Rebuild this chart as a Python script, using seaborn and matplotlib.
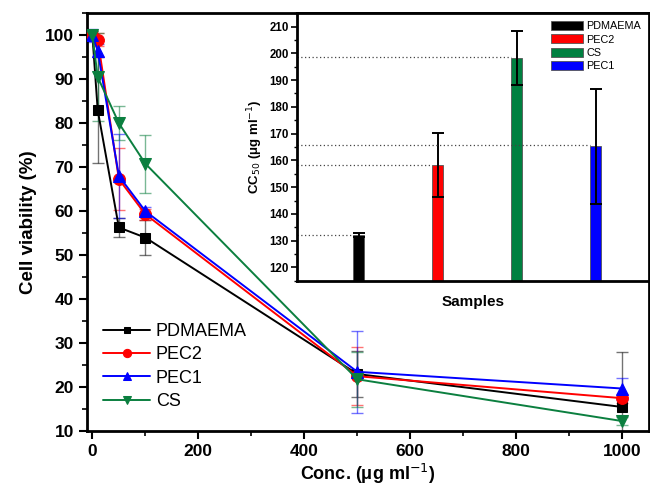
import numpy as np
import pandas as pd
import matplotlib
matplotlib.use("Agg")
import matplotlib.pyplot as plt
from matplotlib.ticker import MultipleLocator
from matplotlib.patches import Patch
import seaborn as sns

# cell viability vs concentration
conc = [0, 10, 50, 100, 500, 1000]
pdmaema = [100, 83.0, 56.3, 54.0, 23.0, 15.5]
pdmaema_err = [1.0, 12.0, 2.2, 4.0, 5.2, 12.5]
pec2 = [100, 99.0, 67.3, 59.3, 22.5, 17.5]
pec2_err = [1.0, 1.5, 7.0, 1.2, 6.6, 1.0]
pec1 = [100, 96.5, 68.0, 60.0, 23.5, 19.7]
pec1_err = [1.5, 1.5, 9.5, 1.0, 9.3, 2.5]
cs = [100, 90.5, 80.0, 70.8, 21.8, 12.3]
cs_err = [1.0, 10.0, 3.9, 6.6, 6.3, 1.0]

# CC50 inset
samples = ["PDMAEMA", "PEC2", "CS", "PEC1"]
cc50 = [132.0, 158.3, 198.4, 165.2]
cc50_err = [0.7, 11.9, 10.1, 21.6]
cc50_ref = [132.2, 158.3, 198.6, 165.7]

green = "#0b7f3f"
series = [
    ("PDMAEMA", pdmaema, pdmaema_err, "black", "s", 7),
    ("PEC2", pec2, pec2_err, "red", "o", 8.5),
    ("PEC1", pec1, pec1_err, "blue", "^", 8.5),
    ("CS", cs, cs_err, green, "v", 8.5),
]
bar_colors = ["black", "red", "#008040", "blue"]

sns.set_style("ticks")
plt.rcParams["font.family"] = ["Liberation Sans", "DejaVu Sans"]
plt.rcParams["text.color"] = "black"
plt.rcParams["axes.labelcolor"] = "black"
plt.rcParams["xtick.color"] = "black"
plt.rcParams["ytick.color"] = "black"
plt.rcParams["axes.edgecolor"] = "black"

fig = plt.figure(figsize=(6.5, 4.9), dpi=100)
ax = fig.add_axes([0.134, 0.12, 0.864, 0.853])

for name, vals, err, col, mk, ms in series:
    ax.errorbar(conc, vals, yerr=err, fmt="none", ecolor=col, alpha=0.55,
                elinewidth=1.0, capsize=4, capthick=1.0, zorder=2)
    sns.lineplot(x=conc, y=vals, ax=ax, color=col, marker=mk, markersize=ms,
                 markeredgecolor=col, linewidth=1.4, label=name, zorder=3)

ax.set_xlim(-10, 1050)
ax.set_ylim(10, 105)
ax.xaxis.set_major_locator(MultipleLocator(200))
ax.xaxis.set_minor_locator(MultipleLocator(100))
ax.yaxis.set_major_locator(MultipleLocator(10))
ax.yaxis.set_minor_locator(MultipleLocator(5))
ax.tick_params(which="major", direction="out", length=6, width=1.5, labelsize=12.5)
ax.tick_params(which="minor", direction="out", length=3.5, width=1.2)
for lab in ax.get_xticklabels() + ax.get_yticklabels():
    lab.set_fontweight("bold")
for sp in ax.spines.values():
    sp.set_linewidth(2)
ax.set_xlabel("Conc. (\u03bcg ml$^{-1}$)", fontsize=13, fontweight="bold", labelpad=2)
ax.set_ylabel("Cell viability (%)", fontsize=13.5, fontweight="bold", labelpad=6)
ax.legend(loc="lower left", bbox_to_anchor=(0.0, 0.012), frameon=False, fontsize=13,
          handlelength=2.6, handletextpad=0.3, labelspacing=0.35, borderaxespad=0.5,
          markerscale=0.7)

# inset bar chart
ins = fig.add_axes([0.457, 0.427, 0.541, 0.546])
sns.barplot(x=samples, y=cc50, hue=samples, palette=bar_colors, ax=ins, width=0.14,
            saturation=1, edgecolor="#555555", linewidth=0.6, legend=False)
ins.errorbar(range(len(samples)), cc50, yerr=cc50_err, fmt="none", ecolor="black",
             elinewidth=1.4, capsize=4, capthick=1.4)
ins.set_xlim(-0.78, 3.67)
ins.set_ylim(115, 215)
for i, v in enumerate(cc50_ref):
    ins.hlines(v, -0.78, i - 0.07, colors="#444444", linestyles=(0, (1, 2)), linewidth=0.9)
ins.set_xticks([])
ins.yaxis.set_major_locator(MultipleLocator(10))
ins.yaxis.set_minor_locator(MultipleLocator(5))
ins.tick_params(which="major", direction="out", length=4, width=1.2, labelsize=8.3, pad=2)
ins.tick_params(which="minor", direction="out", length=2.5, width=1.0)
for lab in ins.get_yticklabels():
    lab.set_fontweight("bold")
for sp in ins.spines.values():
    sp.set_linewidth(2)
ins.set_xlabel("Samples", fontsize=11, fontweight="bold", labelpad=10)
ins.set_ylabel("CC$_{50}$ (\u03bcg ml$^{-1}$)", fontsize=9.5, fontweight="bold", labelpad=3)
handles = [Patch(facecolor=c, edgecolor="#555555", linewidth=0.6) for c in bar_colors]
ins.legend(handles, samples, loc="upper right", frameon=False, fontsize=7.8,
           handlelength=3.0, handleheight=0.9, handletextpad=0.3, labelspacing=0.3,
           borderaxespad=0.3)

fig.savefig("out.png", dpi=100, facecolor="white")
plt.close(fig)
